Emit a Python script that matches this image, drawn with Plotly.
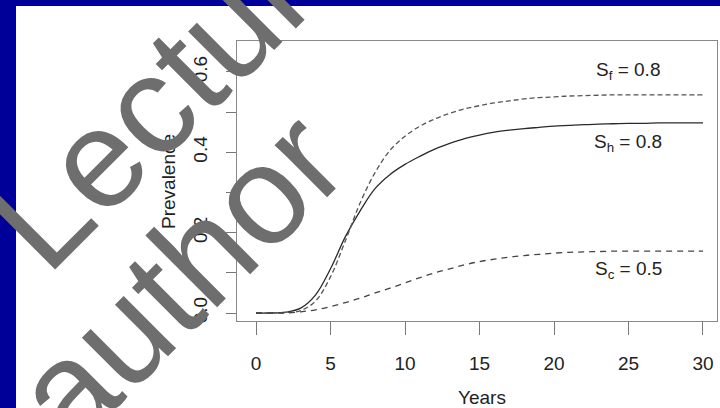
import plotly.graph_objects as go

years = list(range(0, 31))
s_h = [0.0, 0.0, 0.002, 0.012, 0.045, 0.11, 0.19, 0.255, 0.31, 0.345, 0.37,
       0.39, 0.408, 0.422, 0.434, 0.443, 0.45, 0.455, 0.459, 0.462, 0.465,
       0.467, 0.469, 0.47, 0.471, 0.472, 0.472, 0.473, 0.473, 0.473, 0.473]
s_f = [0.0, 0.0, 0.001, 0.006, 0.03, 0.09, 0.18, 0.275, 0.35, 0.405, 0.44,
       0.465, 0.483, 0.497, 0.508, 0.516, 0.523, 0.528, 0.533, 0.536, 0.538,
       0.54, 0.541, 0.542, 0.543, 0.543, 0.543, 0.543, 0.543, 0.543, 0.543]
s_c = [0.0, 0.0, 0.0, 0.003, 0.008, 0.016, 0.026, 0.037, 0.05, 0.062, 0.075,
       0.088, 0.1, 0.11, 0.12, 0.128, 0.134, 0.139, 0.143, 0.146, 0.149,
       0.151, 0.152, 0.153, 0.154, 0.154, 0.154, 0.154, 0.154, 0.154, 0.154]

x_ticks = [0, 5, 10, 15, 20, 25, 30]
y_ticks = [0.0, 0.2, 0.4, 0.6]
y_ticktext = ["0.0", "0.2", "0.4", "0.6"]

curve_labels = ["S<sub>f</sub> = 0.8", "S<sub>h</sub> = 0.8", "S<sub>c</sub> = 0.5"]
label_x = [25, 25, 25]
label_y = [0.602, 0.423, 0.107]

W, H = 720, 408
L, R, T, B = 237, 3, 41, 87
PW, PH = W - L - R, H - T - B


def px(x):
    return (x - L) / PW


def py(y):
    return (H - B - y) / PH


FONT = "Liberation Sans, Arial, sans-serif"
fig = go.Figure()

fig.add_trace(go.Scatter(x=years, y=s_h, mode="lines", line=dict(color="#2a2a2a", width=1.3, shape="spline")))
fig.add_trace(go.Scatter(x=years, y=s_f, mode="lines", line=dict(color="#555555", width=1.3, dash="5px,3px", shape="spline")))
fig.add_trace(go.Scatter(x=years, y=s_c, mode="lines", line=dict(color="#444444", width=1.3, dash="6px,5px", shape="spline")))

for t, xx, yy in zip(curve_labels, label_x, label_y):
    fig.add_annotation(x=xx, y=yy, text=t, showarrow=False, xref="x", yref="y",
                       xanchor="center", yanchor="middle",
                       font=dict(family=FONT, size=19, color="#222222"))

# axis titles
fig.add_annotation(x=px(482), y=py(397), xref="paper", yref="paper", text="Years", showarrow=False,
                   xanchor="center", yanchor="middle",
                   font=dict(family=FONT, size=19, color="#222222"))
fig.add_annotation(x=px(168), y=py(182), xref="paper", yref="paper", text="Prevalence", textangle=-90,
                   xanchor="center", yanchor="middle",
                   showarrow=False, font=dict(family=FONT, size=19, color="#222222"))

# watermark
fig.add_annotation(x=px(177), y=py(78), xref="paper", yref="paper", text="Lecture", textangle=-45,
                   xanchor="center", yanchor="middle",
                   showarrow=False, font=dict(family=FONT, size=140, color="#6e6e6e"))
fig.add_annotation(x=px(178), y=py(277), xref="paper", yref="paper", text="author", textangle=-45,
                   xanchor="center", yanchor="middle",
                   showarrow=False, font=dict(family=FONT, size=140, color="#6e6e6e"))

# white panel
fig.add_shape(type="rect", xref="paper", yref="paper", x0=px(16), x1=px(722), y0=py(410), y1=py(6),
              fillcolor="white", line=dict(width=0), layer="below")

fig.update_layout(
    width=W, height=H, margin=dict(l=L, r=R, t=T, b=B),
    paper_bgcolor="#000099", plot_bgcolor="white", showlegend=False,
    xaxis=dict(range=[-1.275, 30.94], tickvals=x_ticks, ticks="outside", ticklen=13, tickcolor="#777777",
               showgrid=False, zeroline=False, showline=True, linecolor="#888888", mirror=True,
               tickfont=dict(family=FONT, size=19, color="#222222"), ticklabelstandoff=12),
    yaxis=dict(range=[-0.0199, 0.677], tickvals=y_ticks, ticktext=y_ticktext, ticks="outside", ticklen=10,
               tickcolor="#777777", tickangle=-90, showgrid=False, zeroline=False, showline=True,
               linecolor="#888888", mirror=True,
               minor=dict(dtick=0.1, tick0=0, ticks="outside", ticklen=10, tickcolor="#777777"),
               tickfont=dict(family=FONT, size=19, color="#222222"), ticklabelstandoff=11),
)

fig.write_html("out.html")
